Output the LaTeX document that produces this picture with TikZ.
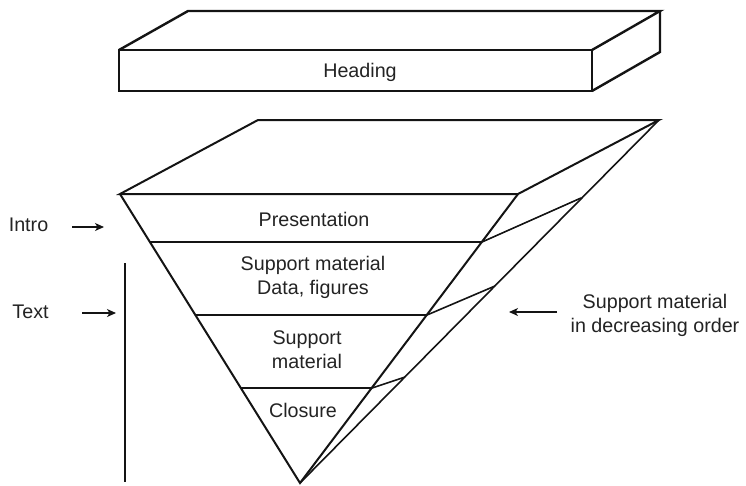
\documentclass[tikz,border=0pt]{standalone}
\usepackage{fontspec}
\setmainfont{Liberation Sans}
\usetikzlibrary{arrows.meta}

\definecolor{ink}{RGB}{20,20,20}
\definecolor{lbl}{RGB}{35,35,35}

\tikzset{
  slab/.style={draw=ink, line width=2.4pt, line join=miter},
  edge/.style={draw=ink, line width=2pt},
  facet/.style={draw=ink, line width=1.6pt},
  pointer/.style={draw=ink, line width=1.2pt, -{Stealth[length=9pt,width=8pt,inset=2.5pt]}},
  lbltext/.style={text=lbl, inner sep=0pt, align=center,
    font=\fontsize{19.7}{24}\selectfont},
}

\begin{document}
\begin{tikzpicture}[x=1pt, y=-1pt]
\useasboundingbox (0,0) rectangle (746,485);

% ---- heading slab ----
\coordinate (hfl) at (119,50);
\coordinate (hfr) at (592,50);
\coordinate (hbl) at (119,91);
\coordinate (hbr) at (592,91);
\coordinate (htl) at (188,11);
\coordinate (htr) at (660,11);
\coordinate (hrb) at (660,52);
\draw[slab] (hfl) -- (hfr) -- (hbr) -- (hbl) -- cycle;
\draw[slab] (hfl) -- (htl) -- (htr) -- (hfr);
\draw[slab] (htr) -- (hrb) -- (hbr);
\node[lbltext] (heading) at (360,72) {Heading};

% ---- inverted pyramid ----
\coordinate (apex) at (300,483);
\coordinate (fl) at (120,194);
\coordinate (fr) at (518,194);
\coordinate (bl) at (258,120);
\coordinate (br) at (659,120);
\draw[edge] (fl) -- (bl) -- (br) -- (fr) -- cycle;
\draw[edge] (fl) -- (apex) -- (fr);
\draw[facet] (br) -- (apex);

% layer boundaries on the front face
\coordinate (l1a) at (150,242);  \coordinate (l1b) at (482,242);
\coordinate (l2a) at (195,315);  \coordinate (l2b) at (427,315);
\coordinate (l3a) at (241,388);  \coordinate (l3b) at (372,388);
\draw[edge] (l1a) -- (l1b);
\draw[edge] (l2a) -- (l2b);
\draw[edge] (l3a) -- (l3b);

% layer boundaries on the side face
\coordinate (s1) at (581,198);
\coordinate (s2) at (495,286);
\coordinate (s3) at (405,377);
\draw[facet] (l1b) -- (s1);
\draw[facet] (l2b) -- (s2);
\draw[facet] (l3b) -- (s3);

% layer labels
\node[lbltext] (pres) at (314,219) {Presentation};
\node[lbltext] (data) at (313,277) {Support material\\Data, figures};
\node[lbltext] (supp) at (307,350) {Support\\material};
\node[lbltext] (clos) at (303,410) {Closure};

% ---- left annotations ----
\node[lbltext] (intro) at (28.5,225) {Intro};
\coordinate (introtip) at (104,227);
\draw[pointer] (72,227) -- (introtip);

\node[lbltext] (text) at (30.5,312) {Text};
\coordinate (texttip) at (116,313);
\draw[pointer] (82,313) -- (texttip);

\coordinate (bartop) at (125,263);
\coordinate (barbot) at (125,482);
\draw[facet] (bartop) -- (barbot);

% ---- right annotation ----
\node[lbltext] (order) at (655,315) {Support material\\in decreasing order};
\coordinate (ordertip) at (509,312);
\draw[pointer] (557,312) -- (ordertip);
\end{tikzpicture}
\end{document}
